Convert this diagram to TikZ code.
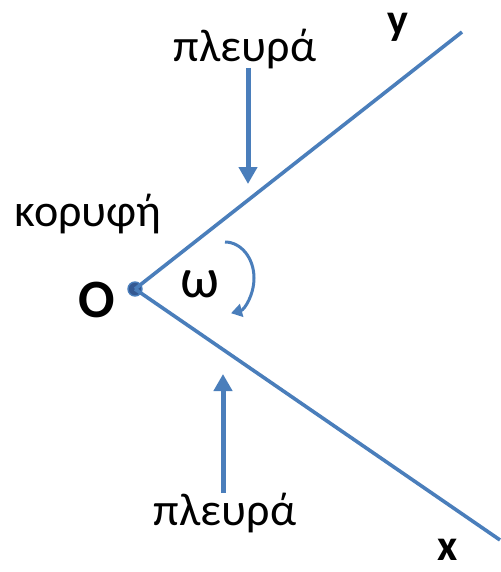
\documentclass[tikz,border=0pt]{standalone}
\usepackage{fontspec}
\setmainfont{Carlito}
\usetikzlibrary{arrows.meta}

\definecolor{rayblue}{RGB}{74,126,187}
\definecolor{dotblue}{RGB}{52,88,145}

\tikzset{
  ray/.style={draw=rayblue, line width=3.6pt},
  sidearrow/.style={draw=rayblue, line width=5pt, -{Triangle[width=18pt,length=17pt]}},
  turnarrow/.style={draw=rayblue, line width=3pt, -{Triangle[width=13pt,length=11pt]}},
  lbl/.style={inner sep=0pt, font=\fontsize{46}{50}\selectfont},
  axislbl/.style={inner sep=0pt, font=\fontsize{44}{48}\selectfont\bfseries},
}

\begin{document}
\begin{tikzpicture}[x=1pt, y=-1pt, line cap=butt, line join=round]

  %% ════ 顶点与两条边 ════
  \node[circle, fill=dotblue, draw=rayblue, line width=1.4pt, inner sep=0pt, minimum size=14pt] (O) at (135,289) {};
  \coordinate (yend) at (462,32);
  \coordinate (xend) at (500,540);
  \draw[ray] (O.center) -- (yend);
  \draw[ray] (O.center) -- (xend);

  %% ════ 标签 ════
  \node[axislbl] (ylbl) at (398,27) {y};
  \node[axislbl] (xlbl) at (448,550) {x};
  \node[inner sep=0pt, font=\fontsize{54}{58}\selectfont\bfseries] (Olbl) at (97,300) {O};
  \node[lbl, anchor=base] (vertex) at (88,226) {κορυφή};
  \node[lbl, anchor=base] (sidetop) at (245,62) {πλευρά};
  \node[lbl, anchor=base] (sidebot) at (225,525) {πλευρά};
  \node[inner sep=0pt, font=\fontsize{56}{60}\selectfont] (omega) at (200,284) {ω};

  %% ════ 指向边的箭头 ════
  \coordinate (tiptop) at (248,184);
  \coordinate (tipbot) at (223,374);
  \draw[sidearrow] (248,68) -- (tiptop);
  \draw[sidearrow] (223,493) -- (tipbot);

  %% ════ 角的弧形箭头 ════
  \draw[turnarrow] (225,242) arc[start angle=-90, end angle=78, x radius=29, y radius=36];

  \pgfresetboundingbox
  \path[use as bounding box] (0,0) rectangle (500,572);
\end{tikzpicture}
\end{document}
